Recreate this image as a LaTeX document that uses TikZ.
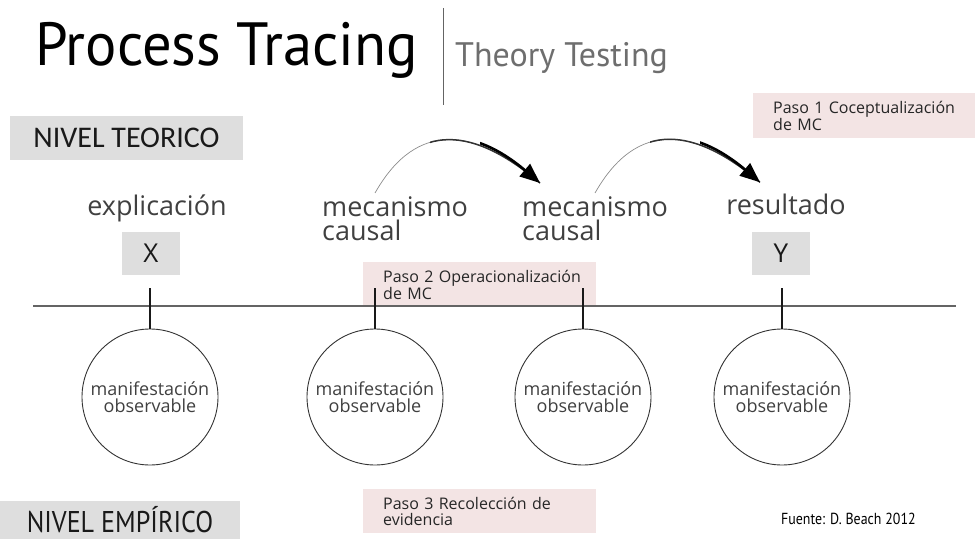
\documentclass[tikz,border=0pt]{standalone}
\usepackage{fontspec}
\setmainfont{Open Sans}
\newfontfamily\titlefont[FakeStretch=0.96]{PT Sans}
\newfontfamily\narrowfont[FakeStretch=0.87]{PT Sans}
\newfontfamily\ptfont{PT Sans}
\newfontfamily\calfont{Carlito}
\usetikzlibrary{arrows.meta,calc}
\definecolor{levelGrey}{RGB}{222,222,222}
\definecolor{pasoPink}{RGB}{243,228,228}
\definecolor{labelGrey}{RGB}{64,64,64}
\definecolor{subGrey}{RGB}{110,110,110}
\definecolor{lineGrey}{RGB}{100,100,100}
\tikzset{
  levelbox/.style={
    rectangle, fill=levelGrey, inner sep=0pt, text=black!90},
  varbox/.style={
    levelbox, minimum width=58pt, minimum height=43pt,
    font=\fontsize{26}{26}\selectfont},
  pasobox/.style={
    rectangle, fill=pasoPink, anchor=north west, align=left,
    text width=193pt, inner xsep=20pt, inner ysep=0pt,
    font=\fontsize{16}{15.5}\selectfont, text=black!85},
  term/.style={
    inner sep=0pt, text=labelGrey, font=\fontsize{27}{24.5}\selectfont},
  obsnode/.style={
    circle, draw=black!80, line width=0.9pt, minimum size=136pt,
    inner sep=0pt, align=center, text=labelGrey,
    font=\fontsize{18}{16.5}\selectfont},
  tickline/.style={line width=2.2pt, draw=black!90},
  arcthin/.style={line width=0.7pt, draw=black!45},
  arcmid/.style={line width=1.5pt, draw=black!80},
  arcthick/.style={line width=2.6pt, draw=black,
    -{Triangle[length=20pt,width=16pt]}}
}

\begin{document}
\begin{tikzpicture}[x=1pt, y=-1pt]
  \useasboundingbox (0,0) rectangle (975,540);

  % header
  \node[anchor=base west, inner sep=0pt, font=\titlefont\fontsize{61}{61}\selectfont] (title) at (35,66) {Process Tracing};
  \node[anchor=base west, inner sep=0pt, text=subGrey, font=\ptfont\fontsize{34}{34}\selectfont] (subtitle) at (455,67) {Theory Testing};
  \draw[lineGrey, line width=0.8pt] (443,8) -- (443,105);

  % levels
  \node[levelbox, minimum width=233pt, minimum height=44pt, font=\calfont\fontsize{30}{30}\selectfont] (teorico) at (126.5,138) {NIVEL TEORICO};
  \node[levelbox, minimum width=240pt, minimum height=38pt, font=\narrowfont\fontsize{30}{30}\selectfont] (empirico) at (120,520) {NIVEL EMPÍRICO};

  % theory level
  \node[term, anchor=base] (expl) at (157,216) {explicación};
  \node[term, anchor=north west, align=left] (mech1) at (322,196) {mecanismo\\causal};
  \node[term, anchor=north west, align=left] (mech2) at (522,196) {mecanismo\\causal};
  \node[term, anchor=base] (result) at (786,215) {resultado};
  \node[varbox] (xvar) at (151,253.5) {X};
  \node[varbox] (yvar) at (781,253.5) {Y};

  % steps
  \node[pasobox, minimum height=45pt] (paso1) at (753,93) {\mbox{Paso 1 Coceptualización}\\de MC};
  \node[pasobox, minimum height=45pt] (paso2) at (363,262) {\mbox{Paso 2 Operacionalización}\\de MC};
  \node[pasobox, minimum height=44pt] (paso3) at (363,489) {\mbox{Paso 3 Recolección de}\\evidencia};

  \draw[lineGrey, line width=1.2pt] (33,306) -- (956,306);

  % empirical level
  \foreach \i/\x in {1/150, 2/375, 3/583, 4/782}{
    \node[obsnode] (obs\i) at (\x,397) {manifestación\\observable};
    \draw[tickline] (obs\i.north) -- ++(0,-41);
  }

  % causal arrows
  \coordinate (a1) at ($(mech1.north west)+(53,-3)$);
  \coordinate (b1) at ($(mech2.north west)+(18,-13)$);
  \coordinate (a2) at ($(mech2.north west)+(73,-3)$);
  \coordinate (b2) at ($(result.north)+(-26,-12)$);
  \foreach \s/\e in {a1/b1, a2/b2}{
    \draw[arcthin] (\s) .. controls +(42,-74) and +(-65,-55) .. (\e);
    \begin{scope}
      \clip ($(\s)+(55,-110)$) rectangle ($(\e)+(30,30)$);
      \draw[arcmid] (\s) .. controls +(42,-74) and +(-65,-55) .. (\e);
    \end{scope}
    \begin{scope}
      \clip ($(\s)+(105,-110)$) rectangle ($(\e)+(30,30)$);
      \draw[arcthick] (\s) .. controls +(42,-74) and +(-65,-55) .. (\e);
    \end{scope}
  }

  \node[anchor=base west, inner sep=0pt, font=\narrowfont\fontsize{16}{16}\selectfont] (source) at (781,524) {Fuente: D. Beach 2012};
\end{tikzpicture}
\end{document}
